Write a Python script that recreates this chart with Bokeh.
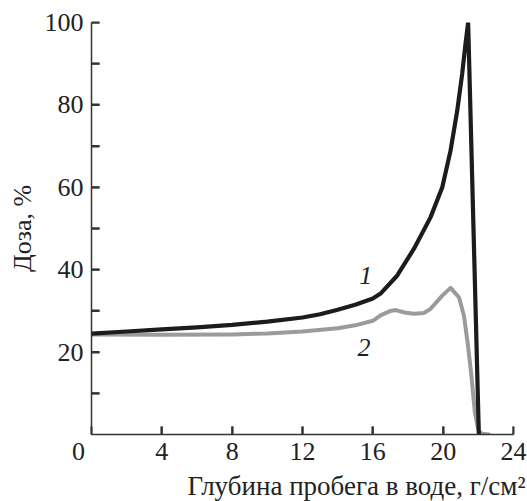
from bokeh.plotting import figure
from bokeh.models import FixedTicker, Label, Range1d, Title
from bokeh.embed import file_html
from bokeh.resources import INLINE

# Curve 1 (black): depth, g/cm^2 -> dose, %
depth_1 = [0, 2, 4, 6, 8, 10, 12, 13, 14, 15, 16, 16.44, 17.39, 18.34, 19.28,
           19.95, 20.42, 20.8, 21.08, 21.27, 21.42, 22.03]
dose_1 = [24.5, 25.0, 25.5, 26.0, 26.6, 27.4, 28.4, 29.2, 30.3, 31.5, 33.0, 34.2,
          38.6, 45.1, 52.7, 60.0, 68.9, 78.6, 87.5, 94.8, 100.0, 0.0]

# Curve 2 (grey)
depth_2 = [0, 4, 8, 10, 12, 14, 15, 16, 16.44, 17.0, 17.3, 17.8, 18.34, 18.9, 19.28,
           19.95, 20.42, 20.9, 21.18, 21.4, 21.6, 21.8, 22.0, 22.2, 22.6]
dose_2 = [24.3, 24.2, 24.3, 24.5, 25.0, 25.8, 26.5, 27.6, 28.9, 30.0, 30.2, 29.6,
          29.3, 29.5, 30.5, 33.7, 35.6, 33.3, 28.9, 22.0, 14.5, 5.5, 1.0, 0.2, 0.0]

x_ticks = [0, 4, 8, 12, 16, 20, 24]
x_labels = {0: "0\u2007\u2007"}
y_ticks = [20, 40, 60, 80, 100]
y_minor = [10, 30, 50, 70, 90]

x_title = "Глубина пробега в воде, г/см²"
y_title = "Доза, %"

FONT = "Liberation Serif"
FS = "26px"
TXT = "#222222"
AX = "#333333"

X0, X1, Y0, Y1 = 0, 24, 0, 100
W, H = 527, 501
BL, BR, BT, BB = 91, 14, 22, 67

p = figure(width=W, height=H, output_backend="svg", toolbar_location=None,
           x_range=Range1d(X0, X1), y_range=Range1d(Y0, Y1),
           min_border_left=BL, min_border_right=BR, min_border_top=BT, min_border_bottom=BB)
p.outline_line_color = None
p.xgrid.visible = False
p.ygrid.visible = False
p.background_fill_color = None
p.border_fill_color = "white"

# Inward tick marks (8 px long), drawn from the tick lists
TICK = 8
dx = TICK * (X1 - X0) / (W - BL - BR)
dy = TICK * (Y1 - Y0) / (H - BT - BB)
xt = [t for t in x_ticks if t > X0]
yt = y_ticks + y_minor
tick_xs = [[t, t] for t in xt] + [[X0, X0 + dx] for t in yt]
tick_ys = [[Y0, Y0 + dy] for t in xt] + [[t, t] for t in yt]
p.multi_line(xs=tick_xs, ys=tick_ys, line_color=AX, line_width=2)

p.line(depth_2, dose_2, line_color="#9b9b9b", line_width=4, line_join="round", line_cap="round")
p.line(depth_1, dose_1, line_color="#1c1c1c", line_width=4.2, line_join="round", line_cap="round")

for ax in (p.xaxis[0], p.yaxis[0]):
    ax.axis_line_color = AX
    ax.axis_line_width = 1.5
    ax.major_tick_line_color = AX
    ax.minor_tick_line_color = AX
    ax.major_tick_line_width = 2
    ax.minor_tick_line_width = 2
    ax.major_tick_in = TICK
    ax.major_tick_out = 0
    ax.minor_tick_in = TICK
    ax.minor_tick_out = 0
    ax.major_label_text_font = FONT
    ax.major_label_text_font_size = FS
    ax.major_label_text_color = TXT

p.xaxis[0].ticker = FixedTicker(ticks=x_ticks, minor_ticks=[])
p.xaxis[0].major_label_overrides = x_labels
p.yaxis[0].ticker = FixedTicker(ticks=y_ticks, minor_ticks=y_minor)
p.xaxis[0].major_label_standoff = 2
p.yaxis[0].major_label_standoff = 8

# Axis titles
p.add_layout(Title(text=x_title, align="right", offset=-12, standoff=0,
                   text_font=FONT, text_font_size="27px", text_color=TXT,
                   text_font_style="normal"), "below")
p.add_layout(Title(text=y_title, align="center", standoff=10,
                   text_font=FONT, text_font_size=FS, text_color=TXT,
                   text_font_style="normal"), "left")

# Curve numbers
p.add_layout(Label(x=15.6, y=38.5, text="1", text_align="center", text_baseline="middle",
                   text_font=FONT, text_font_style="italic", text_font_size=FS,
                   text_color=TXT))
p.add_layout(Label(x=15.5, y=21, text="2", text_align="center", text_baseline="middle",
                   text_font=FONT, text_font_style="italic", text_font_size=FS,
                   text_color=TXT))

open("out.html", "w").write(file_html(p, INLINE))
